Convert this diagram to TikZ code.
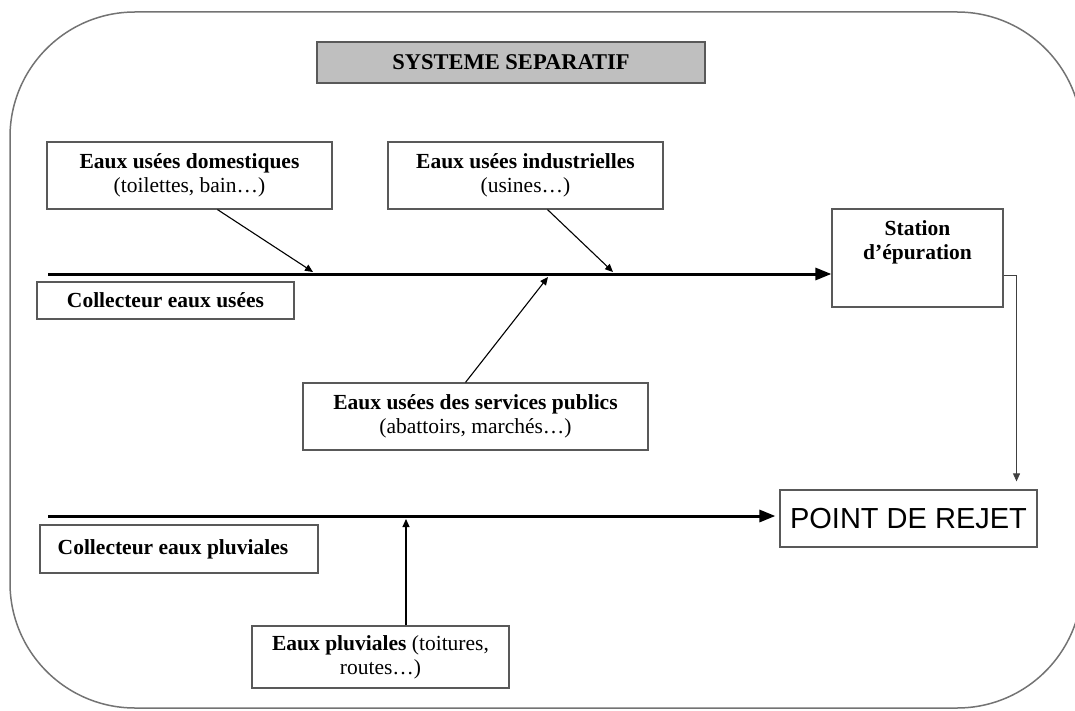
\documentclass[tikz,border=0pt]{standalone}
\usepackage{fontspec}
\setmainfont{Liberation Serif}
\newfontfamily\rejetfont{Liberation Sans}
\usetikzlibrary{arrows.meta}

\tikzstyle{block} = [rectangle, draw=black!65, line width=1.2pt, align=center, inner sep=0pt, font=\fontsize{21.5}{24}\selectfont]
\tikzstyle{title} = [block, fill=black!25, font=\fontsize{22.5}{24}\selectfont\bfseries]
\tikzstyle{line} = [draw, line width=3pt, -{Triangle[length=16pt,width=12pt]}]
\tikzstyle{branch} = [draw, line width=1.1pt, -{Triangle[length=8pt,width=7pt]}]
\tikzstyle{frame} = [draw=black!55, line width=1.5pt, rounded corners=125pt]

\begin{document}
\begin{tikzpicture}[x=1pt, y=-1pt]

    \useasboundingbox (0,0) rectangle (1075,711);

    % FRAME
        \draw[frame] (10,12) rectangle (1082,708);

    % TITLE
        \node [title, minimum width=388pt, minimum height=41pt]
            (titre) at (511,62.5) {SYSTEME SEPARATIF};

    % SOURCES of waste water
        \node [block, minimum width=285pt, minimum height=67pt]
            (dom) at (189.5,175.5) {\textbf{Eaux usées domestiques}\\(toilettes, bain…)};
        \node [block, minimum width=275pt, minimum height=67pt]
            (ind) at (525.5,175.5) {\textbf{Eaux usées industrielles}\\(usines…)};
        \node [block, minimum width=345pt, minimum height=67pt]
            (pub) at (475.5,416.5) {\textbf{Eaux usées des services publics}\\(abattoirs, marchés…)};

    % COLLECTORS
        \node [block, minimum width=257pt, minimum height=37pt]
            (colUs) at (165.5,300.5) {\textbf{Collecteur eaux usées}};
        \node [block, minimum width=278pt, minimum height=48pt]
            (colPl) at (179,549) {\textbf{Collecteur eaux pluviales}\hspace{12pt}};

    % STATION + REJET
        \node [block, minimum width=171pt, minimum height=98pt]
            (station) at (917.5,258) {\textbf{Station}\\\textbf{d’épuration}\\[12pt]\mbox{}};
        \node [block, minimum width=257pt, minimum height=57pt, font=\fontsize{29}{30}\rejetfont]
            (rejet) at (908.5,518.5) {POINT DE REJET};

    % RAIN water
        \node [block, minimum width=257pt, minimum height=62pt]
            (pluv) at (380.5,657) {\textbf{Eaux pluviales} (toitures,\\routes…)};

    % points on the collectors
        \coordinate (usStart) at (48,274);
        \coordinate (plStart) at (48,516);
        \coordinate (jDom) at (313,272);
        \coordinate (jInd) at (613,272);
        \coordinate (jPub) at (548,277);
        \coordinate (jPl) at (406,519);

    % LINE collectors -> station / rejet
        \path[line] (usStart) -- (usStart -| station.west);
        \path[line] (plStart) -- ([xshift=-4pt]plStart -| rejet.west);

    % LINE sources -> collector
        \path[branch] ([xshift=28pt]dom.south) -- (jDom);
        \path[branch] ([xshift=22pt]ind.south) -- (jInd);
        \path[branch] ([xshift=-10pt]pub.north) -- (jPub);
        \path[branch] (jPl |- pluv.north) -- (jPl);

    % LINE station -> rejet
        \path[branch, line width=0.9pt, draw=black!75]
            ([yshift=-17pt]station.east) -| ([xshift=108pt,yshift=8pt]rejet.north);
\end{tikzpicture}
\end{document}
